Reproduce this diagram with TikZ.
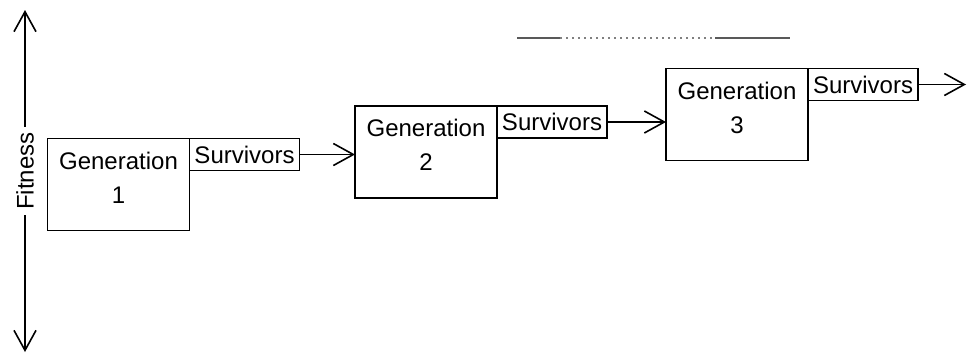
\documentclass[tikz,border=0pt]{standalone}
\usepackage{fontspec}
\setmainfont{Liberation Sans}
\usetikzlibrary{arrows.meta,positioning}
\tikzset{>={Straight Barb[length=10pt,width=11pt]},
genbox/.style={draw,line width=.8pt,outer sep=0pt,minimum width=71pt,minimum height=46pt,align=center,font=\fontsize{12}{17}\selectfont,text depth=7pt},
survbox/.style={draw,line width=.8pt,outer sep=0pt,minimum width=55pt,minimum height=16pt,inner sep=1pt,font=\fontsize{12}{14}\selectfont},
arr/.style={->,line width=.8pt},
axislabel/.style={rotate=90,inner xsep=2.5pt,font=\fontsize{12}{14}\selectfont}}
\begin{document}
\begin{tikzpicture}[x=.5pt,y=-.5pt]
\useasboundingbox (0,0) rectangle (968,354);
% fitness axis
\node[axislabel] (fit) at (25,171) {Fitness};
\coordinate (top) at (25,10);
\coordinate (bot) at (25,352);
\draw[arr] (fit.east) -- (top);
\draw[arr] (fit.west) -- (bot);
% generations
\foreach \i/\x/\y in {1/118.5/184.5,2/426/152,3/737/114.5}{
\node[genbox] (g\i) at (\x,\y) {Generation\\\i};
\node[survbox,below right=0pt and 0pt of g\i.north east] (s\i) {Survivors};
}
\coordinate[right=24pt of s3.east] (out);
\draw[arr] (s1.east) -- (s1.east -| g2.west);
\draw[arr] (s2.east) -- (s2.east -| g3.west);
\draw[arr] (s3.east) -- (out);
% stray line at the top
\draw[gray!70!black,line width=1pt] (517,38) -- (560,38) (715,38) -- (790,38);
\draw[gray,line width=1pt,dotted] (560,38) -- (715,38);
\end{tikzpicture}
\end{document}
